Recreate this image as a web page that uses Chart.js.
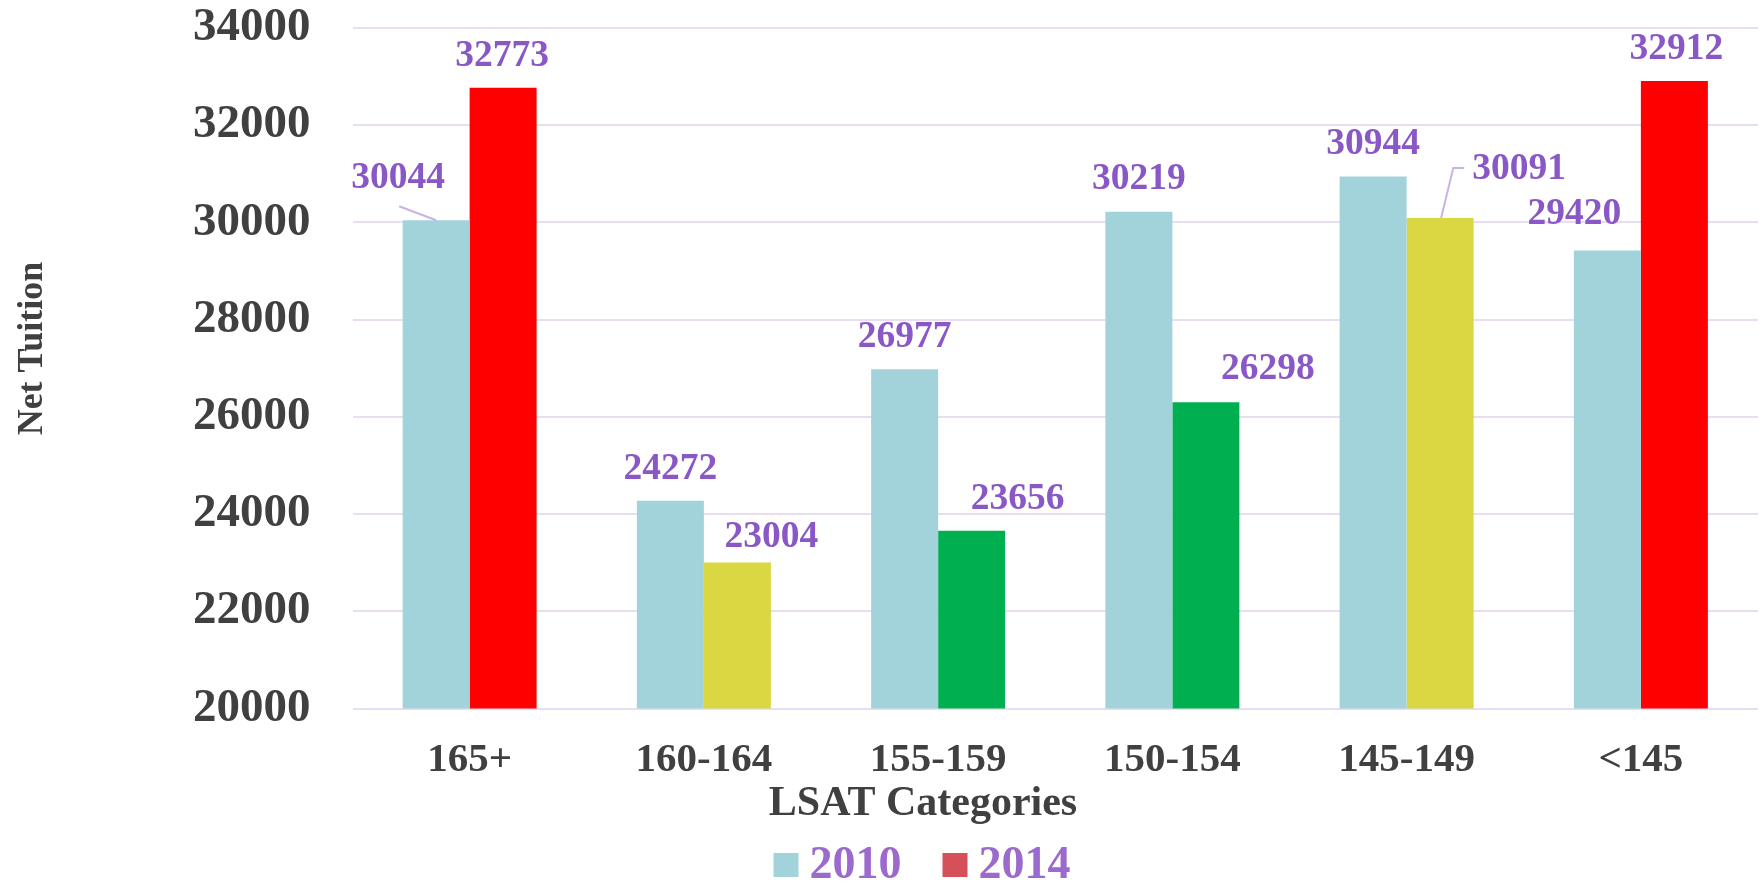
<!DOCTYPE html>
<html><head><meta charset="utf-8">
<script src="https://cdn.jsdelivr.net/npm/chart.js@4/dist/chart.umd.min.js"></script>
<style>html,body{margin:0;padding:0;background:#fff}</style>
</head><body>
<canvas id="c" width="1762" height="883" style="display:block"></canvas>
<script>
const categories = ['165+', '160-164', '155-159', '150-154', '145-149', '<145'];
const values2010 = [30044, 24272, 26977, 30219, 30944, 29420];
const values2014 = [32773, 23004, 23656, 26298, 30091, 32912];
const seriesNames = ['2010', '2014'];
const yTickValues = [20000, 22000, 24000, 26000, 28000, 30000, 32000, 34000];
const xAxisTitle = 'LSAT Categories';
const yAxisTitle = 'Net Tuition';

// styles
const FONT = "'Liberation Serif', 'Times New Roman', serif";
const color2010 = '#A3D3DA';
const colors2014 = ['#FF0000', '#D9D842', '#00AF50', '#00AF50', '#D9D842', '#FF0000'];
const legendColors = ['#A3D3DA', '#D55058'];
const labelColor = '#8A58C6';
const legendTextColor = '#9C6ACD';
const axisTextColor = '#404040';
const gridColor = '#E8DDF2';
const leaderColor = '#C9B3E3';
// label placement offsets [dx, rise above bar top]
const labelOffsets = [
  [[-38, 42], [0, 32], [0, 32], [0, 32], [0, 32], [-33, 36]],
  [[-1, 31], [34, 25], [46, 31], [62, 33], [79, 49], [2, 32]]
];

const overlay = {
  id: 'overlay',
  afterDatasetsDraw(chart) {
    const ctx = chart.ctx;
    ctx.save();
    ctx.font = "bold 37.5px " + FONT;
    ctx.textAlign = 'center';
    ctx.textBaseline = 'middle';
    chart.data.datasets.forEach((ds, di) => {
      const meta = chart.getDatasetMeta(di);
      meta.data.forEach((bar, i) => {
        const [dx, rise] = labelOffsets[di][i];
        const lx = bar.x + dx, ly = bar.y - rise;
        ctx.fillStyle = labelColor;
        ctx.fillText(String(ds.data[i]), lx, ly);
        ctx.strokeStyle = leaderColor;
        ctx.lineWidth = 2;
        if (di === 0 && i === 0) {
          ctx.beginPath();
          ctx.moveTo(lx + 1, ly + 28);
          ctx.lineTo(bar.x, bar.y);
          ctx.stroke();
        }
        if (di === 1 && i === 4) {
          const w = ctx.measureText(String(ds.data[i])).width;
          const left = lx - w / 2;
          ctx.beginPath();
          ctx.moveTo(bar.x + 1, bar.y);
          ctx.lineTo(left - 19, ly - 1);
          ctx.lineTo(left - 8, ly - 1);
          ctx.stroke();
        }
      });
    });
    ctx.restore();
  },
  afterDraw(chart) {
    const ctx = chart.ctx;
    ctx.save();
    ctx.fillStyle = axisTextColor;
    ctx.font = "bold 42px " + FONT;
    ctx.textAlign = 'center';
    ctx.textBaseline = 'alphabetic';
    ctx.fillText(xAxisTitle, 923, 815);
    ctx.save();
    ctx.translate(42, 348.5);
    ctx.rotate(-Math.PI / 2);
    ctx.font = "bold 36px " + FONT;
    ctx.fillText(yAxisTitle, 0, 0);
    ctx.restore();
    ctx.font = "bold 46px " + FONT;
    ctx.textAlign = 'left';
    const box = 25, gap = 11, between = 41;
    const widths = seriesNames.map(s => ctx.measureText(s).width);
    const total = widths.reduce((a, w) => a + box + gap + w, 0) + between * (seriesNames.length - 1);
    let x = 922 - total / 2;
    seriesNames.forEach((s, i) => {
      ctx.fillStyle = legendColors[i];
      ctx.fillRect(x, 853, box, 24);
      ctx.fillStyle = legendTextColor;
      ctx.fillText(s, x + box + gap, 878);
      x += box + gap + widths[i] + between;
    });
    ctx.restore();
  }
};

new Chart(document.getElementById('c'), {
  type: 'bar',
  data: {
    labels: categories,
    datasets: [
      { label: seriesNames[0], data: values2010, backgroundColor: color2010, categoryPercentage: 0.572, barPercentage: 1.0 },
      { label: seriesNames[1], data: values2014, backgroundColor: colors2014, categoryPercentage: 0.572, barPercentage: 1.0 }
    ]
  },
  options: {
    responsive: false,
    animation: false,
    layout: { padding: { top: 28, right: 4, left: 0, bottom: 0 } },
    plugins: { legend: { display: false }, tooltip: { enabled: false } },
    scales: {
      x: {
        grid: { display: false },
        border: { display: false },
        ticks: { color: axisTextColor, font: { family: FONT, size: 41, weight: 'bold' }, padding: 19, maxRotation: 0 },
        afterFit: (s) => { s.height = 174.5; s.paddingLeft = 0; s.paddingRight = 0; }
      },
      y: {
        min: yTickValues[0],
        max: yTickValues[yTickValues.length - 1],
        afterBuildTicks: (s) => { s.ticks = yTickValues.map(v => ({ value: v })); },
        grid: { color: gridColor, lineWidth: 2, drawTicks: false },
        border: { display: false },
        ticks: { color: axisTextColor, font: { family: FONT, size: 47, weight: 'bold' }, padding: 42, callback: (v) => String(v) },
        afterFit: (s) => { s.width = 352.5; s.paddingTop = 0; s.paddingBottom = 0; }
      }
    }
  },
  plugins: [overlay]
});
</script>
</body></html>
